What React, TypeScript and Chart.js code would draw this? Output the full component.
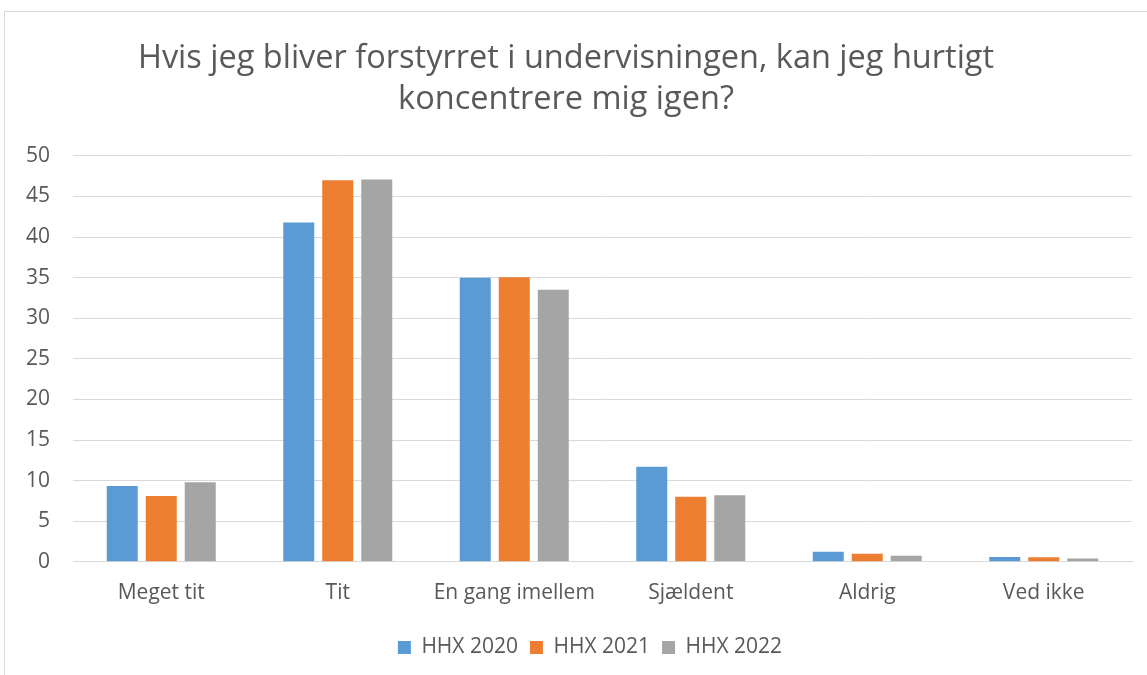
import React, { useEffect, useRef } from "react";
import { Chart, registerables } from "chart.js";

Chart.register(...registerables);

const titleLines = [
  "Hvis jeg bliver forstyrret i undervisningen, kan jeg hurtigt",
  "koncentrere mig igen?",
];
const categories = ["Meget tit", "Tit", "En gang imellem", "Sjældent", "Aldrig", "Ved ikke"];
const seriesNames = ["HHX 2020", "HHX 2021", "HHX 2022"];
const hhx2020 = [9.35, 41.8, 35.0, 11.7, 1.25, 0.6];
const hhx2021 = [8.1, 47.0, 35.05, 8.0, 1.0, 0.55];
const hhx2022 = [9.8, 47.1, 33.5, 8.2, 0.75, 0.4];
const colors = ["#5B9BD5", "#ED7D31", "#A5A5A5"];
const yMin = 0;
const yMax = 50;
const yStep = 5;

export default function App() {
  const ref = useRef<HTMLCanvasElement | null>(null);
  useEffect(() => {
    if (!ref.current) return;
    const font = "'Open Sans', 'Liberation Sans', sans-serif";
    const shiftLegend = {
      id: "shiftLegend",
      afterLayout(chart: any) {
        if (chart.legend) {
          chart.legend.left += 24;
          chart.legend.right += 24;
        }
      },
    };
    const chart = new Chart(ref.current, {
      type: "bar",
      data: {
        labels: categories,
        datasets: [hhx2020, hhx2021, hhx2022].map((d, i) => ({
          label: seriesNames[i],
          data: d,
          backgroundColor: colors[i],
          borderWidth: 0,
          categoryPercentage: 0.663,
          barPercentage: 0.795,
        })),
      },
      plugins: [shiftLegend],
      options: {
        responsive: false,
        animation: false,
        layout: { padding: { left: 0, right: 15, top: 0, bottom: 7 } },
        plugins: {
          tooltip: { enabled: false },
          title: {
            display: true,
            text: titleLines,
            color: "#595959",
            font: { family: font, size: 32.5, weight: "normal", lineHeight: 1.26 },
            padding: { top: 38, bottom: 36 },
          },
          legend: {
            position: "bottom",
            labels: {
              color: "#595959",
              font: { family: font, size: 21 },
              boxWidth: 13,
              boxHeight: 13,
              padding: 12,
            },
          },
        },
        scales: {
          x: {
            grid: { display: false, drawTicks: false },
            border: { display: true, color: "#d9d9d9", width: 1 },
            ticks: { color: "#595959", font: { family: font, size: 21 }, padding: 19 },
          },
          y: {
            min: yMin,
            max: yMax,
            afterFit: (s: any) => {
              s.width = 73;
            },
            grid: { color: "#d9d9d9", lineWidth: 1, drawTicks: false },
            border: { display: false },
            ticks: {
              stepSize: yStep,
              color: "#595959",
              font: { family: font, size: 21 },
              padding: 23,
            },
          },
        },
      },
    });
    return () => chart.destroy();
  }, []);
  return (
    <div style={{ position: "fixed", left: 0, top: 0, width: 1147, height: 675, background: "#fff", overflow: "hidden" }}>
      <div
        style={{
          position: "absolute",
          left: 4,
          top: 11,
          width: 1200,
          height: 700,
          border: "1px solid #d9d9d9",
        }}
      />
      <canvas ref={ref} width={1147} height={675} style={{ position: "absolute", left: 0, top: 0 }} />
    </div>
  );
}
